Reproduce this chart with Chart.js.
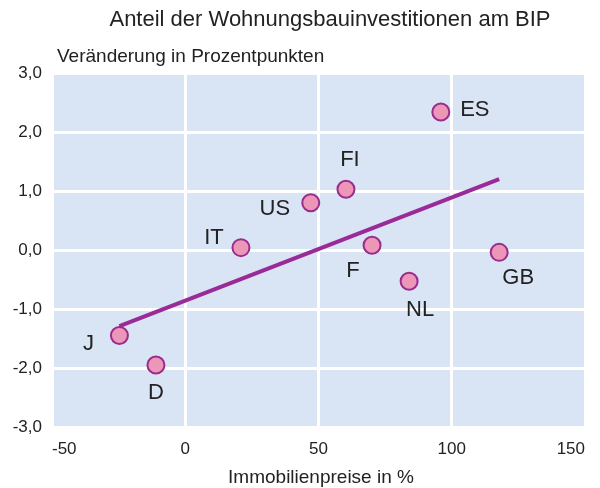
<!DOCTYPE html>
<html>
<head>
<meta charset="utf-8">
<script src="https://cdn.jsdelivr.net/npm/chart.js@4.4.0/dist/chart.umd.min.js"></script>
<style>
  html, body { margin: 0; padding: 0; background: #ffffff; }
  #wrap { width: 600px; height: 488px; position: relative; }
</style>
</head>
<body>
<div id="wrap"><canvas id="chart"></canvas></div>
<script>
// Länder und Werte
const laender = ['ES', 'FI', 'US', 'IT', 'F', 'GB', 'NL', 'J', 'D'];
const immobilienpreise = [95.9, 60.3, 47.1, 20.9, 70.1, 117.8, 84.0, -24.7, -11.0];
const wohnungsbau = [2.34, 1.03, 0.80, 0.04, 0.08, -0.04, -0.53, -1.45, -1.95];
const trendX = [-24.7, 117.8];
const trendY = [-1.29, 1.20];
const xTicks = [-50, 0, 50, 100, 150];
const yTicks = [-3, -2, -1, 0, 1, 2, 3];

const titel = 'Anteil der Wohnungsbauinvestitionen am BIP';
const untertitel = 'Veränderung in Prozentpunkten';
const xTitel = 'Immobilienpreise in %';

// Versatz der Beschriftungen relativ zum Punkt (Pixel)
const labelOffsets = {
    ES: [34, -2], FI: [4, -29], US: [-36, 6], IT: [-27, -10], F: [-19, 26],
    GB: [19, 26], NL: [11, 29], J: [-31, 8], D: [0, 28]
};

const punkte = laender.map((l, i) => ({ x: immobilienpreise[i], y: wohnungsbau[i], label: l }));
const trend = trendX.map((x, i) => ({ x: x, y: trendY[i] }));

const schrift = '"Liberation Sans", Arial, sans-serif';

const hintergrund = {
    id: 'hintergrund',
    beforeDraw(chart) {
        const { ctx, chartArea } = chart;
        ctx.save();
        ctx.fillStyle = '#d9e4f4';
        ctx.fillRect(chartArea.left, chartArea.top, chartArea.right - chartArea.left, chartArea.bottom - chartArea.top);
        ctx.restore();
    },
    afterDraw(chart) {
        const ctx = chart.ctx;
        ctx.save();
        ctx.fillStyle = '#222222';
        ctx.textBaseline = 'middle';
        ctx.textAlign = 'center';
        ctx.font = '22px ' + schrift;
        ctx.fillText(titel, 330, 20);
        ctx.font = '19px ' + schrift;
        ctx.fillText(xTitel, 321, 478);
        ctx.textAlign = 'left';
        ctx.fillText(untertitel, 57, 57);

        // Länderkürzel
        const meta = chart.getDatasetMeta(1);
        ctx.textAlign = 'center';
        ctx.font = '22px ' + schrift;
        meta.data.forEach((pt, i) => {
            const l = laender[i];
            const o = labelOffsets[l];
            ctx.fillText(l, pt.x + o[0], pt.y + o[1]);
        });
        ctx.restore();
    }
};

const tickFont = { family: schrift, size: 17 };

new Chart(document.getElementById('chart'), {
    type: 'scatter',
    data: {
        datasets: [
            {
                type: 'line',
                data: trend,
                borderColor: '#992a98',
                borderWidth: 4,
                pointRadius: 0,
                fill: false
            },
            {
                data: punkte,
                backgroundColor: '#ec96b8',
                borderColor: '#9a2c8e',
                borderWidth: 2,
                pointRadius: 8.5,
                pointHoverRadius: 8.5
            }
        ]
    },
    options: {
        responsive: true,
        maintainAspectRatio: false,
        animation: false,
        layout: { padding: { top: 73, right: 15, left: 0, bottom: 0 } },
        plugins: {
            legend: { display: false },
            tooltip: { enabled: false }
        },
        scales: {
            x: {
                type: 'linear',
                min: -50,
                max: 150,
                afterBuildTicks: (axis) => { axis.ticks = xTicks.map(v => ({ value: v })); },
                grid: { color: '#ffffff', lineWidth: 3, drawTicks: false },
                border: { display: false },
                ticks: { color: '#222222', font: tickFont, padding: 12, align: 'inner' },
                afterFit: (scale) => { scale.height = 61; }
            },
            y: {
                type: 'linear',
                min: -3,
                max: 3,
                afterBuildTicks: (axis) => { axis.ticks = yTicks.map(v => ({ value: v })); },
                grid: { color: '#ffffff', lineWidth: 3, drawTicks: false },
                border: { display: false },
                ticks: {
                    color: '#222222',
                    font: tickFont,
                    padding: 10,
                    callback: (v) => v.toFixed(1).replace('.', ',')
                },
                afterFit: (scale) => { scale.width = 52; }
            }
        }
    },
    plugins: [hintergrund]
});
</script>
</body>
</html>
